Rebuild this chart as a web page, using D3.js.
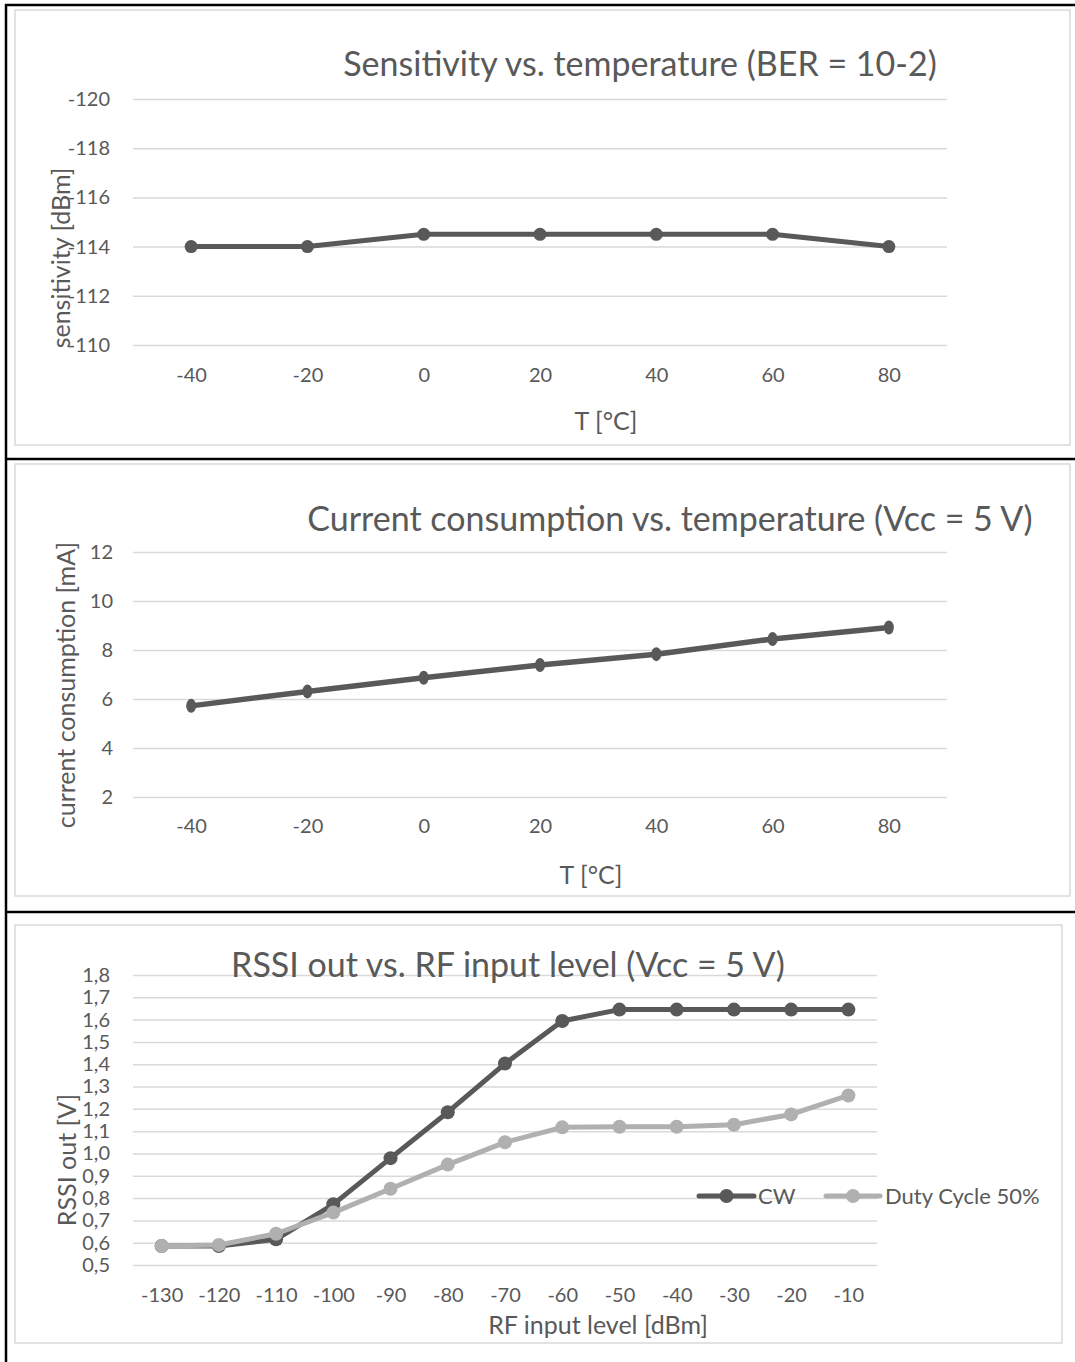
<!DOCTYPE html>
<html>
<head>
<meta charset="utf-8">
<script src="https://cdn.jsdelivr.net/npm/d3@7"></script>
<style>
  body { margin: 0; background: #fff; }
  svg text { font-family: Lato, "Open Sans", sans-serif; fill: #595959; }
</style>
</head>
<body>
<svg width="1075" height="1362"></svg>
<script>
// chart data
var temps = [-40, -20, 0, 20, 40, 60, 80];
var sensValues = [-114, -114, -114.5, -114.5, -114.5, -114.5, -114];
var sensTicks = [-120, -118, -116, -114, -112, -110];
var currValues = [5.72, 6.31, 6.87, 7.39, 7.83, 8.45, 8.92];
var currTicks = [2, 4, 6, 8, 10, 12];
var rfLevels = [-130, -120, -110, -100, -90, -80, -70, -60, -50, -40, -30, -20, -10];
var cwValues = [0.585, 0.585, 0.615, 0.772, 0.979, 1.185, 1.403, 1.594, 1.645, 1.645, 1.645, 1.645, 1.645];
var dutyValues = [0.585, 0.59, 0.64, 0.735, 0.842, 0.95, 1.05, 1.117, 1.12, 1.12, 1.129, 1.175, 1.26];
var rssiTicks = [0.5, 0.6, 0.7, 0.8, 0.9, 1.0, 1.1, 1.2, 1.3, 1.4, 1.5, 1.6, 1.7, 1.8];

var dark = "#595959", light = "#b0b0b0", grid = "#d9d9d9";

var svg = d3.select("svg");

// table borders
var table = svg.append("g").attr("stroke", "#000").attr("stroke-width", 2.5);
table.append("line").attr("x1", 6).attr("x2", 6).attr("y1", 4).attr("y2", 1362);
[5, 459, 912].forEach(function(y){
  table.append("line").attr("x1", 5).attr("x2", 1075).attr("y1", y).attr("y2", y);
});

function drawChart(cfg){
  var g = svg.append("g");
  g.append("rect")
    .attr("x", cfg.frame[0]).attr("y", cfg.frame[1])
    .attr("width", cfg.frame[2]).attr("height", cfg.frame[3])
    .attr("fill", "#fff").attr("stroke", grid).attr("stroke-width", 1.5);

  var x = d3.scalePoint().domain(cfg.cats).range([cfg.left, cfg.right]).padding(0.5);
  var y = d3.scaleLinear().domain(cfg.yDomain).range([cfg.bottom, cfg.top]);

  var yAxis = d3.axisLeft(y).tickValues(cfg.yTicks)
    .tickSize(-(cfg.right - cfg.left)).tickPadding(cfg.yPad)
    .tickFormat(cfg.yFormat);
  var ya = g.append("g").attr("transform", "translate(" + cfg.left + ",0)").call(yAxis);
  ya.select(".domain").remove();
  ya.selectAll(".tick line").attr("stroke", grid).attr("stroke-width", 1.5);
  ya.selectAll(".tick text").attr("fill", dark).style("font-size", cfg.tickSize + "px");

  var xAxis = d3.axisBottom(x).tickSize(0).tickPadding(0).tickFormat(function(d){ return String(d); });
  var xa = g.append("g").attr("transform", "translate(0," + cfg.xLabelY + ")").call(xAxis);
  xa.select(".domain").remove();
  xa.selectAll(".tick text").attr("fill", dark).attr("dy", "0.35em").style("font-size", cfg.tickSize + "px");

  g.append("text").text(cfg.title)
    .attr("x", cfg.titlePos[0]).attr("y", cfg.titlePos[1])
    .attr("text-anchor", "middle").style("font-size", cfg.titleSize + "px");
  g.append("text").text(cfg.xTitle)
    .attr("x", cfg.xTitlePos[0]).attr("y", cfg.xTitlePos[1])
    .attr("text-anchor", "middle").attr("dy", "0.35em").style("font-size", cfg.axisTitleSize + "px");
  g.append("text").text(cfg.yTitle)
    .attr("transform", "translate(" + cfg.yTitlePos[0] + "," + cfg.yTitlePos[1] + ") rotate(-90)")
    .attr("text-anchor", "middle").attr("dy", "0.35em").style("font-size", cfg.axisTitleSize + "px");

  var line = d3.line().x(function(d){ return x(d[0]); }).y(function(d){ return y(d[1]); });
  cfg.series.forEach(function(s){
    var pts = cfg.cats.map(function(c, i){ return [c, s.values[i]]; });
    g.append("path").datum(pts).attr("d", line)
      .attr("fill", "none").attr("stroke", s.color).attr("stroke-width", cfg.lineWidth)
      .attr("stroke-linejoin", "round");
    g.selectAll(null).data(pts).enter().append("ellipse")
      .attr("cx", function(d){ return x(d[0]); })
      .attr("cy", function(d){ return y(d[1]); })
      .attr("rx", cfg.rx).attr("ry", cfg.ry)
      .attr("fill", s.color);
  });
  return g;
}

drawChart({
  frame: [15, 10, 1055, 435],
  cats: temps, left: 133, right: 947, top: 99, bottom: 345,
  yDomain: [-110, -120], yTicks: sensTicks, yPad: 23,
  yFormat: function(d){ return String(d); },
  xLabelY: 375, tickSize: 20,
  title: "Sensitivity vs. temperature (BER = 10-2)", titlePos: [640, 76], titleSize: 34,
  xTitle: "T [°C]", xTitlePos: [606, 421],
  yTitle: "sensitivity [dBm]", yTitlePos: [61, 258], axisTitleSize: 25,
  lineWidth: 5, rx: 6.5, ry: 6.5,
  series: [{values: sensValues, color: dark}]
});

drawChart({
  frame: [15, 464, 1055, 432],
  cats: temps, left: 133, right: 947, top: 552, bottom: 797,
  yDomain: [2, 12], yTicks: currTicks, yPad: 20,
  yFormat: function(d){ return String(d); },
  xLabelY: 826, tickSize: 20,
  title: "Current consumption vs. temperature (Vcc = 5 V)", titlePos: [670, 531], titleSize: 34,
  xTitle: "T [°C]", xTitlePos: [591, 875],
  yTitle: "current consumption [mA]", yTitlePos: [66, 685], axisTitleSize: 25,
  lineWidth: 5.5, rx: 5, ry: 7,
  series: [{values: currValues, color: dark}]
});

var rssi = drawChart({
  frame: [15, 925, 1047, 418],
  cats: rfLevels, left: 133, right: 877, top: 975, bottom: 1265,
  yDomain: [0.5, 1.8], yTicks: rssiTicks, yPad: 23,
  yFormat: function(d){ return d.toFixed(1).replace(".", ","); },
  xLabelY: 1295, tickSize: 20,
  title: "RSSI out vs. RF input level (Vcc = 5 V)", titlePos: [508, 977], titleSize: 34,
  xTitle: "RF input level [dBm]", xTitlePos: [598, 1325],
  yTitle: "RSSI out [V]", yTitlePos: [67, 1160], axisTitleSize: 25,
  lineWidth: 5, rx: 7, ry: 7,
  series: [{values: cwValues, color: dark}, {values: dutyValues, color: light}]
});

// legend
var legendItems = [
  {name: "CW", color: dark, x0: 699, x1: 754, tx: 758},
  {name: "Duty Cycle 50%", color: light, x0: 826, x1: 880, tx: 885}
];
var legend = rssi.append("g");
legendItems.forEach(function(d){
  legend.append("line").attr("x1", d.x0).attr("x2", d.x1).attr("y1", 1196).attr("y2", 1196)
    .attr("stroke", d.color).attr("stroke-width", 5).attr("stroke-linecap", "round");
  legend.append("circle").attr("cx", (d.x0 + d.x1) / 2).attr("cy", 1196).attr("r", 7).attr("fill", d.color);
  legend.append("text").text(d.name).attr("x", d.tx).attr("y", 1196).attr("dy", "0.35em")
    .style("font-size", "22px");
});
</script>
</body>
</html>
